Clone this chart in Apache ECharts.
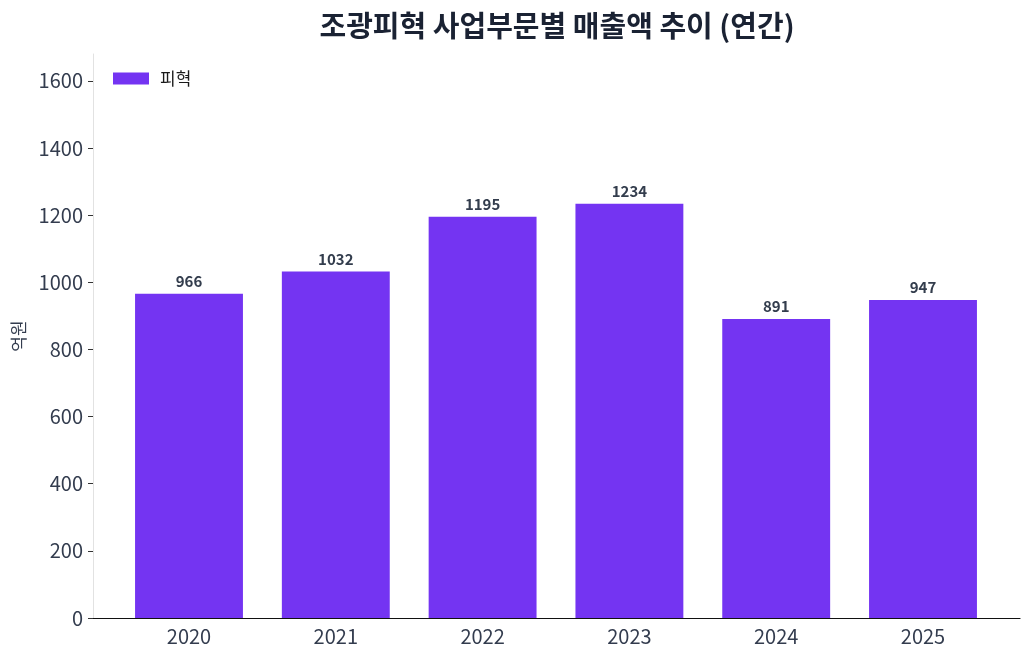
<!DOCTYPE html>
<html>
<head>
<meta charset="utf-8">
<script src="https://cdn.jsdelivr.net/npm/echarts@6/dist/echarts.min.js"></script>
<style>
html, body { margin: 0; padding: 0; background: #fff; }
#chart { width: 1030px; height: 660px; }
</style>
</head>
<body>
<div id="chart"></div>
<script>
// 조광피혁 연간 매출액
var years = ['2020', '2021', '2022', '2023', '2024', '2025'];
var sales = [966, 1032, 1195, 1234, 891, 947];
var yTicks = [0, 200, 400, 600, 800, 1000, 1200, 1400, 1600];

var font = '"Noto Sans CJK KR", "Noto Sans", sans-serif';
var myChart = echarts.init(document.getElementById('chart'));

var option = {
	textStyle: { fontFamily: font },
	title: {
		text: '조광피혁 사업부문별 매출액 추이 (연간)',
		left: '53.6%',
		textAlign: 'center',
		top: 6,
		textStyle: { fontSize: 29, fontWeight: 'bold', color: '#1a2233', fontFamily: font }
	},
	legend: {
		data: ['피혁'],
		left: 108,
		top: 65,
		icon: 'rect',
		itemWidth: 36,
		itemHeight: 12,
		textStyle: { fontSize: 17, color: '#1a1a1a', fontFamily: font, padding: [0, 0, 0, 6] }
	},
	// 0: 막대 영역, 1: 축선만 그리는 바깥 영역
	grid: [
		{ left: 115.6, right: 33.6, top: 54, bottom: 42, outerBoundsMode: 'none', containLabel: false },
		{ left: 93, right: 10, top: 54, bottom: 42, outerBoundsMode: 'none', containLabel: false }
	],
	xAxis: [{
		type: 'category',
		gridIndex: 0,
		data: years,
		axisLine: { show: false },
		axisTick: { alignWithLabel: true, length: 5, lineStyle: { color: '#333' } },
		axisLabel: { fontSize: 20, color: '#333c4e', margin: 8, fontFamily: font }
	}, {
		type: 'category',
		gridIndex: 1,
		data: years,
		axisLine: { lineStyle: { color: '#111', width: 1.2 } },
		axisTick: { show: false },
		axisLabel: { show: false }
	}],
	yAxis: [{
		type: 'value',
		gridIndex: 0,
		min: 0,
		max: 1680,
		interval: 200,
		offset: 22.6,
		name: '억원',
		nameLocation: 'middle',
		nameGap: 66,
		nameRotate: 90,
		nameTextStyle: { fontSize: 17, color: '#333c4e', fontFamily: font },
		splitLine: { show: false },
		axisLine: { show: true, lineStyle: { color: '#e2e2e2' } },
		axisTick: { show: true, length: 5, customValues: yTicks, lineStyle: { color: '#333' } },
		axisLabel: {
			fontSize: 20, color: '#333c4e', margin: 10, fontFamily: font, customValues: yTicks,
			formatter: function (v) { return String(v); }
		}
	}, {
		type: 'value',
		gridIndex: 1,
		min: 0,
		max: 1680,
		show: false
	}],
	series: [{
		name: '피혁',
		type: 'bar',
		xAxisIndex: 0,
		yAxisIndex: 0,
		data: sales,
		barWidth: '73.5%',
		itemStyle: { color: '#7434f2' },
		label: {
			show: true,
			position: 'top',
			distance: 5,
			fontSize: 15,
			fontWeight: 'bold',
			color: '#333d4d',
			fontFamily: font
		}
	}]
};

myChart.setOption(option);
</script>
</body>
</html>
